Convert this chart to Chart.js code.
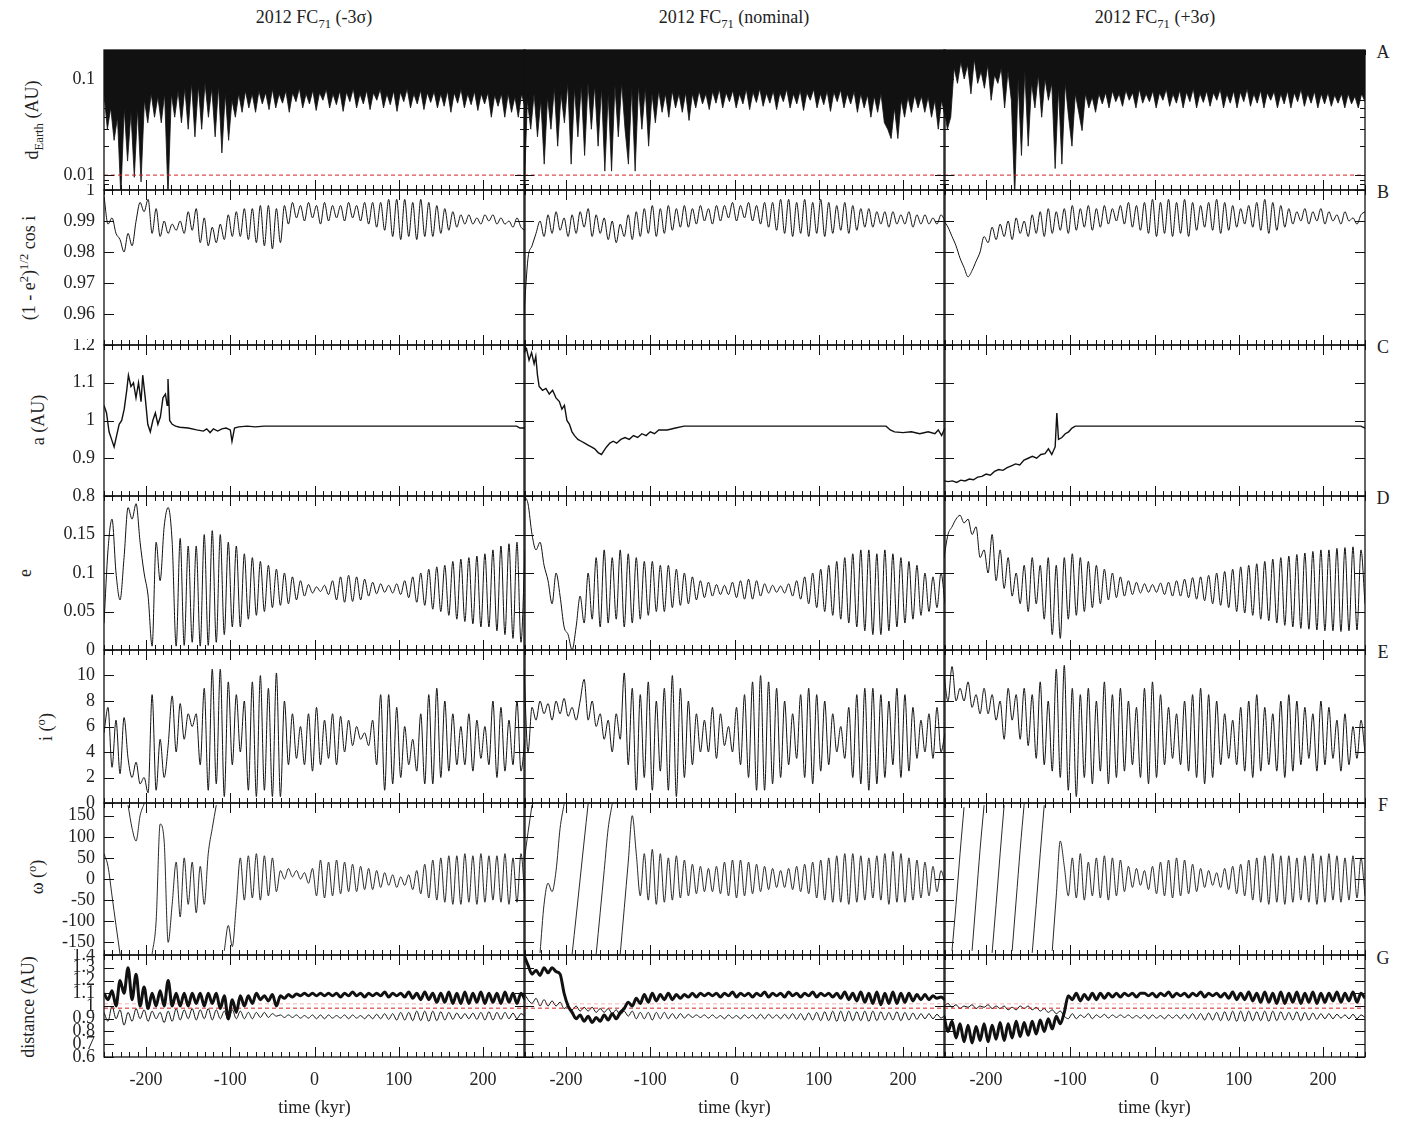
<!DOCTYPE html>
<html lang="en">
<head>
<meta charset="UTF-8">
<title>2012 FC71 orbital evolution</title>
<script src="https://cdn.jsdelivr.net/npm/chart.js"></script>
<style>
  body { margin: 0; background: #fff; }
  #fig { position: relative; width: 1408px; height: 1126px; font-family: "Liberation Serif", "DejaVu Serif", serif; color: #222; }
  #fig canvas { position: absolute; }
  .txt { position: absolute; font-size: 18px; white-space: nowrap; line-height: 1; }
  .txt sub, .txt sup { font-size: 70%; }
  .ctitle { transform: translate(-50%, -50%); }
  .ylab { transform: translate(-50%, -50%) rotate(-90deg); }
  .tag { transform: translate(-50%, -50%); }
</style>
</head>
<body>
<div id="fig">
  <div class="txt ctitle" style="left:314px;top:19px">2012 FC<sub>71</sub> (-3σ)</div>
  <div class="txt ctitle" style="left:734px;top:19px">2012 FC<sub>71</sub> (nominal)</div>
  <div class="txt ctitle" style="left:1155px;top:19px">2012 FC<sub>71</sub> (+3σ)</div>

  <div class="txt ylab" style="left:34px;top:120px">d<sub>Earth</sub> (AU)</div>
  <div class="txt ylab" style="left:28px;top:268px">(1 - e<sup>2</sup>)<sup>1/2</sup> cos i</div>
  <div class="txt ylab" style="left:38px;top:420px">a (AU)</div>
  <div class="txt ylab" style="left:25px;top:573px">e</div>
  <div class="txt ylab" style="left:45px;top:727px">i (<sup>o</sup>)</div>
  <div class="txt ylab" style="left:36px;top:877px">ω (<sup>o</sup>)</div>
  <div class="txt ylab" style="left:28px;top:1007px">distance (AU)</div>

  <div class="txt tag" style="left:1383px;top:52px">A</div>
  <div class="txt tag" style="left:1383px;top:192px">B</div>
  <div class="txt tag" style="left:1383px;top:347px">C</div>
  <div class="txt tag" style="left:1383px;top:498px">D</div>
  <div class="txt tag" style="left:1383px;top:652px">E</div>
  <div class="txt tag" style="left:1383px;top:805px">F</div>
  <div class="txt tag" style="left:1383px;top:958px">G</div>
</div>

<script>
// ---- axis ticks ----
const xMajorTicks = [-200, -100, 0, 100, 200];
const yTicksA = [0.01, 0.1];
const yLabelsA = ['0.01', '0.1'];
const yMinorA = [0.008, 0.009, 0.02, 0.03, 0.04, 0.05, 0.06, 0.07, 0.08, 0.09, 0.2];
const yTicksB = [0.96, 0.97, 0.98, 0.99, 1];
const yLabelsB = ['0.96', '0.97', '0.98', '0.99', '1'];
const yTicksC = [0.8, 0.9, 1, 1.1, 1.2];
const yLabelsC = ['0.8', '0.9', '1', '1.1', '1.2'];
const yTicksD = [0, 0.05, 0.1, 0.15];
const yLabelsD = ['0', '0.05', '0.1', '0.15'];
const yTicksE = [0, 2, 4, 6, 8, 10];
const yLabelsE = ['0', '2', '4', '6', '8', '10'];
const yTicksF = [-150, -100, -50, 0, 50, 100, 150];
const yLabelsF = ['-150', '-100', '-50', '0', '50', '100', '150'];
const yTicksG = [0.6, 0.7, 0.8, 0.9, 1, 1.1, 1.2, 1.3, 1.4];
const yLabelsG = ['0.6', '0.7', '0.8', '0.9', '1', '1.1', '1.2', '1.3', '1.4'];

// reference levels
const closeLimit = 0.01;
const earthPeri = 0.983;
const earthAph = 1.017;

// ---- A: distance to Earth (lower envelope, evenly spaced -250..250 kyr) ----
const dEarthLeft = [
  .07,.03,.05,.023,.04,.006,.05,.014,.045,.0095,
  .05,.0085,.06,.035,.07,.04,.065,.035,.07,.006,
  .07,.04,.075,.035,.08,.03,.09,.025,.085,.03,
  .09,.04,.08,.025,.085,.017,.07,.023,.06,.04,
  .07,.045,.075,.05,.07,.045,.075,.055,.072,.048,
  .078,.05,.07,.056,.075,.045,.072,.058,.08,.05,
  .07,.055,.076,.047,.072,.06,.078,.05,.07,.054,
  .075,.046,.073,.058,.079,.05,.07,.055,.076,.048,
  .072,.06,.078,.05,.07,.054,.075,.046,.073,.058,
  .079,.05,.07,.055,.076,.048,.072,.057,.074,.05,
  .07,.052,.075,.045,.072,.056,.078,.05,.07,.054,
  .074,.047,.07,.055,.072,.04,.068,.052,.07,.04,
  .07,.045,.065,.04,.07,.05
];
const dEarthMid = [
  .006,.06,.03,.07,.025,.06,.013,.065,.03,.08,
  .02,.07,.035,.09,.013,.08,.025,.085,.016,.09,
  .03,.085,.02,.08,.011,.07,.011,.085,.025,.09,
  .03,.013,.08,.011,.085,.03,.08,.02,.07,.035,
  .075,.045,.07,.04,.075,.05,.07,.045,.072,.037,
  .07,.05,.075,.055,.07,.048,.074,.056,.078,.05,
  .072,.058,.076,.05,.07,.055,.078,.048,.073,.057,
  .079,.052,.071,.056,.075,.048,.072,.058,.078,.05,
  .07,.055,.076,.047,.072,.06,.078,.05,.07,.054,
  .075,.046,.073,.058,.077,.05,.07,.055,.074,.045,
  .07,.05,.068,.04,.066,.045,.07,.035,.03,.024,
  .05,.024,.06,.04,.065,.045,.068,.05,.066,.045,
  .065,.04,.06,.03,.06,.04
];
const dEarthRight = [
  .05,.03,.04,.13,.09,.15,.10,.14,.07,.16,
  .09,.12,.08,.14,.06,.11,.09,.13,.05,.12,
  .06,.006,.10,.016,.12,.02,.09,.05,.11,.04,
  .10,.06,.09,.0117,.08,.013,.09,.04,.02,.07,
  .045,.029,.07,.05,.065,.045,.07,.055,.072,.05,
  .075,.058,.07,.052,.076,.06,.072,.05,.078,.056,
  .07,.058,.075,.05,.072,.06,.078,.052,.07,.056,
  .076,.05,.073,.058,.079,.05,.071,.057,.075,.052,
  .072,.06,.078,.05,.07,.056,.075,.05,.073,.058,
  .079,.052,.07,.056,.076,.05,.072,.06,.074,.05,
  .07,.055,.075,.05,.072,.058,.078,.052,.07,.056,
  .074,.05,.07,.055,.072,.052,.068,.056,.07,.05,
  .07,.055,.066,.05,.07,.058
];

// ---- B: (1-e^2)^1/2 cos i ----
const cosLeft = [
  .998,.989,.991,.986,.984,.980,.986,.982,.990,.996,
  .993,.997,.986,.994,.985,.990,.986,.989,.987,.990,
  .986,.993,.987,.994,.983,.991,.982,.988,.983,.989,
  .984,.992,.985,.993,.985,.994,.984,.994,.983,.995,
  .982,.995,.981,.994,.983,.995,.989,.996,.991,.995,
  .990,.996,.991,.995,.989,.996,.990,.995,.991,.995,
  .990,.996,.991,.995,.990,.996,.989,.996,.988,.996,
  .987,.997,.985,.997,.984,.997,.985,.996,.984,.997,
  .985,.996,.985,.995,.986,.994,.987,.993,.988,.992,
  .989,.992,.989,.991,.989,.992,.990,.992,.989,.991,
  .989,.990,.988,.991,.988,.987
];
const cosMid = [
  .960,.978,.982,.986,.990,.985,.992,.986,.993,.987,
  .991,.985,.992,.986,.993,.988,.994,.985,.992,.986,
  .991,.984,.990,.983,.989,.985,.992,.984,.993,.985,
  .994,.986,.995,.985,.994,.986,.995,.987,.994,.988,
  .995,.988,.994,.989,.995,.990,.994,.989,.995,.990,
  .995,.991,.996,.990,.995,.991,.996,.990,.995,.989,
  .996,.988,.996,.987,.997,.986,.997,.985,.996,.986,
  .997,.985,.996,.986,.997,.985,.996,.986,.995,.987,
  .996,.986,.995,.987,.994,.988,.994,.988,.993,.989,
  .993,.988,.993,.989,.992,.989,.993,.988,.992,.989,
  .992,.989,.991,.989,.992,.990
];
const cosRight = [
  .990,.988,.985,.982,.978,.975,.972,.974,.977,.980,
  .985,.983,.988,.984,.989,.985,.990,.984,.991,.986,
  .990,.985,.992,.986,.993,.985,.994,.986,.993,.987,
  .994,.986,.995,.987,.994,.988,.995,.987,.994,.988,
  .995,.989,.994,.990,.995,.989,.996,.988,.995,.987,
  .996,.986,.997,.985,.996,.986,.997,.985,.996,.986,
  .997,.985,.996,.987,.995,.988,.996,.987,.997,.986,
  .996,.987,.995,.988,.994,.989,.995,.988,.996,.987,
  .997,.986,.996,.987,.995,.988,.994,.989,.993,.990,
  .994,.989,.993,.990,.994,.989,.993,.990,.992,.989,
  .993,.990,.991,.989,.992,.993
];

// ---- C: semi-major axis (time, value) ----
const semiTimeLeft = [-250,-247,-244,-241,-238,-235,-232,-229,-226,-223,-221,-218,-215,-212,-209,-206,-204,-201,-198,-195,-192,-189,-186,-183,-180,-177,-175,-174,-172,-169,-165,-160,-150,-140,-132,-128,-124,-120,-115,-110,-105,-100,-98,-95,-90,-80,-70,-60,240,244,250];
const semiLeft = [1.04,1.02,0.97,0.95,0.93,0.96,0.99,1.0,1.03,1.08,1.12,1.09,1.1,1.06,1.1,1.05,1.12,1.06,0.99,0.97,1.0,1.02,0.99,1.01,1.06,1.07,1.04,1.11,1.0,0.99,0.985,0.982,0.98,0.975,0.972,0.978,0.968,0.978,0.972,0.978,0.98,0.975,0.945,0.98,0.983,0.985,0.983,0.985,0.985,0.98,0.98];
const semiTimeMid = [-250,-247,-244,-241,-238,-236,-234,-232,-228,-224,-220,-216,-212,-208,-205,-202,-199,-196,-193,-190,-186,-182,-178,-174,-170,-166,-162,-158,-155,-152,-148,-144,-140,-135,-130,-125,-120,-115,-110,-105,-100,-95,-90,-80,-70,-60,180,185,190,200,210,220,230,238,242,246,250];
const semiMid = [1.18,1.19,1.16,1.18,1.15,1.17,1.12,1.09,1.08,1.085,1.07,1.08,1.06,1.05,1.03,1.04,1.0,0.99,0.97,0.96,0.95,0.945,0.94,0.935,0.93,0.925,0.915,0.91,0.92,0.93,0.94,0.945,0.94,0.95,0.955,0.95,0.96,0.955,0.965,0.96,0.97,0.965,0.975,0.975,0.98,0.985,0.985,0.975,0.97,0.968,0.97,0.965,0.97,0.965,0.975,0.96,0.98];
const semiTimeRight = [-250,-245,-240,-235,-230,-225,-220,-215,-210,-205,-200,-195,-190,-185,-180,-175,-170,-165,-160,-155,-150,-145,-140,-135,-130,-126,-122,-118,-116,-114,-110,-106,-102,-98,-94,245,250];
const semiRight = [0.84,0.838,0.84,0.836,0.842,0.84,0.845,0.843,0.85,0.852,0.858,0.855,0.865,0.87,0.868,0.875,0.88,0.885,0.882,0.895,0.9,0.905,0.9,0.91,0.912,0.925,0.91,0.93,1.02,0.95,0.955,0.965,0.97,0.98,0.985,0.985,0.98];

// ---- D: eccentricity ----
const eccLeft = [
  .035,.13,.17,.10,.065,.12,.185,.17,.19,.14,
  .10,.07,.005,.14,.09,.16,.185,.14,.005,.145,
  .006,.135,.01,.135,.005,.15,.006,.155,.01,.15,
  .02,.14,.03,.135,.03,.125,.04,.12,.045,.115,
  .05,.11,.055,.105,.058,.10,.06,.095,.065,.09,
  .07,.085,.074,.082,.076,.084,.072,.09,.065,.095,
  .062,.097,.063,.095,.065,.092,.07,.088,.073,.086,
  .075,.084,.074,.086,.072,.09,.068,.095,.062,.10,
  .058,.105,.053,.108,.05,.11,.045,.115,.04,.118,
  .037,.12,.034,.122,.03,.125,.03,.13,.025,.135,
  .02,.138,.015,.14,.01,.13
];
const eccMid = [
  .20,.19,.15,.13,.14,.11,.09,.06,.10,.07,
  .03,.02,.0,.03,.07,.035,.10,.04,.12,.03,
  .13,.035,.12,.04,.13,.03,.125,.035,.12,.04,
  .115,.045,.115,.05,.11,.05,.11,.055,.105,.058,
  .10,.06,.095,.065,.09,.068,.088,.07,.085,.072,
  .084,.072,.088,.068,.09,.066,.092,.066,.09,.07,
  .086,.074,.084,.075,.083,.074,.086,.07,.09,.066,
  .095,.06,.10,.055,.105,.05,.11,.045,.115,.04,
  .12,.035,.125,.03,.13,.025,.13,.02,.125,.02,
  .13,.025,.125,.03,.12,.035,.115,.04,.11,.045,
  .10,.05,.095,.055,.10,.06
];
const eccRight = [
  .12,.15,.16,.17,.175,.165,.17,.15,.16,.12,
  .13,.10,.15,.09,.13,.08,.12,.07,.10,.06,
  .11,.05,.12,.06,.11,.04,.12,.02,.11,.015,
  .12,.04,.125,.045,.12,.05,.115,.055,.11,.06,
  .105,.065,.10,.068,.095,.07,.09,.072,.088,.074,
  .086,.075,.085,.075,.087,.072,.088,.07,.09,.07,
  .092,.068,.094,.066,.095,.064,.097,.06,.10,.058,
  .102,.055,.105,.05,.108,.048,.11,.045,.112,.04,
  .115,.038,.118,.035,.12,.032,.122,.03,.124,.028,
  .126,.027,.128,.026,.13,.025,.13,.025,.132,.024,
  .133,.025,.134,.026,.13,.06
];

// ---- E: inclination (deg) ----
const incLeft = [
  5.5,7.5,2.8,6.5,2.3,6.7,3.5,2.0,3.2,1.5,
  2.0,0.8,8.5,1.0,5.0,2.0,4.5,8.4,4.0,7.8,
  5.0,7.0,6.0,7.0,3.0,9.0,1.0,10.5,1.5,10.5,
  0.5,9.5,3.0,8.5,4.0,8.0,1.0,9.5,0.5,10.0,
  1.0,9.0,0.5,10.2,0.5,8.0,3.0,7.0,3.5,6.0,
  3.0,7.0,2.5,7.5,3.0,6.5,3.5,7.0,3.0,6.8,
  4.0,6.5,4.5,6.0,5.0,5.5,4.5,6.5,3.0,8.5,
  1.0,8.5,1.5,7.5,2.0,6.0,3.0,5.0,2.5,7.0,
  1.5,8.5,1.5,9.0,2.0,8.0,2.5,7.0,3.0,6.0,
  3.0,7.0,2.5,6.5,3.5,6.0,3.0,8.0,2.0,7.5,
  2.5,6.5,3.0,8.0,2.5,5.0
];
const incMid = [
  10.5,4.0,7.5,6.5,8.0,7.0,7.8,6.5,8.0,7.0,
  8.2,6.8,7.5,6.5,8.0,9.7,6.5,8.0,6.0,7.0,
  5.0,6.5,4.0,7.0,5.0,10.2,3.0,9.0,1.0,8.5,
  2.0,9.5,1.0,8.0,2.5,9.0,1.0,10.0,0.5,9.0,
  2.0,8.0,3.0,7.0,4.0,6.5,4.0,7.5,3.5,7.0,
  4.5,6.0,4.0,7.5,3.0,8.5,2.0,9.5,1.0,10.0,
  1.0,9.5,1.5,9.0,2.0,8.0,3.0,7.0,3.5,8.5,
  2.0,9.0,1.5,8.5,2.5,8.0,3.0,7.0,4.0,6.0,
  3.5,7.5,2.0,8.5,1.5,9.0,1.0,9.0,1.5,8.5,
  2.0,8.0,3.0,9.0,2.0,8.5,2.5,7.5,3.5,6.5,
  4.0,7.0,3.5,7.5,4.0,5.5
];
const incRight = [
  10.0,8.0,10.7,8.0,9.0,8.0,9.5,7.5,8.5,7.0,
  9.0,7.0,8.5,6.5,8.0,5.0,9.0,6.5,8.5,5.0,
  9.0,4.5,8.5,3.5,9.5,3.0,8.0,2.5,10.5,2.0,
  10.8,1.0,9.0,0.5,8.5,2.0,9.0,1.5,8.0,2.5,
  9.5,1.5,8.5,2.0,9.0,2.5,8.0,3.0,7.5,2.0,
  9.0,1.5,9.5,2.0,8.5,3.0,7.5,3.5,7.0,3.0,
  8.0,2.5,8.5,2.0,9.0,1.5,8.5,2.0,8.0,3.0,
  7.0,3.5,6.5,3.0,7.5,2.5,8.0,2.0,8.5,2.5,
  7.5,3.0,7.0,2.5,8.0,2.0,8.5,2.5,8.0,3.0,
  7.5,3.5,7.0,2.5,8.0,3.0,7.5,3.5,6.5,2.5,
  7.0,3.0,6.0,3.5,6.5,4.0
];

// ---- F: argument of perihelion (deg), null where the angle wraps ----
const periLeft = [
  60,30,-40,-110,-178,null,175,120,90,150,
  178,null,-178,-100,130,90,-150,-60,40,-90,
  50,-60,40,-80,30,-60,60,120,175,null,
  -170,-110,-160,-60,50,-50,55,-45,60,-50,
  55,-40,50,-30,20,0,25,5,20,0,
  15,-10,25,-40,45,-45,40,-40,45,-35,
  40,-30,35,-30,30,-25,25,-25,20,-20,
  15,-15,10,-20,5,-15,10,-25,20,-35,
  35,-45,45,-50,50,-55,55,-60,55,-60,
  60,-55,55,-60,60,-55,55,-50,55,-55,
  60,-60,50,-55,60,-50
];
const periMid = [
  40,110,175,null,-175,-60,-10,-30,20,120,
  178,null,-178,-90,0,90,178,null,-178,-80,
  20,120,178,null,-178,-70,40,150,60,-40,
  60,-50,70,-60,60,-55,50,-50,55,-45,
  45,-40,35,-35,30,-30,25,-30,30,-35,
  40,-40,45,-45,45,-40,40,-35,35,-30,
  30,-25,25,-20,20,-20,25,-25,30,-30,
  35,-35,40,-45,45,-50,50,-55,55,-55,
  60,-60,60,-55,55,-50,50,-45,55,-50,
  60,-60,65,-55,60,-55,50,-50,45,-45,
  40,-40,30,-30,20,-10
];
const periRight = [
  170,null,-170,-60,60,170,null,-170,-50,70,
  175,null,-175,-60,60,175,null,-170,-50,70,
  178,null,-175,-60,60,175,null,-170,-40,90,
  30,-40,50,-45,60,-50,40,-40,50,-45,
  55,-50,50,-40,45,-30,30,-20,25,-15,
  20,-25,30,-35,40,-40,45,-45,50,-40,
  45,-35,35,-30,25,-20,20,-15,15,-20,
  25,-25,30,-35,35,-40,45,-50,50,-55,
  55,-60,60,-55,55,-60,55,-55,50,-50,
  55,-55,60,-60,55,-55,60,-50,55,-55,
  50,-50,55,-45,50,-40
];

// ---- G: nodal distances (AU), outer (thick) and inner (thin) ----
const nodeOutLeft = [
  1.1,1.05,1.12,1.0,1.2,1.1,1.3,1.05,1.25,1.0,
  1.15,0.98,1.1,1.0,1.12,1.0,1.2,1.0,1.1,1.0,
  1.1,1.0,1.1,1.02,1.1,1.0,1.1,1.02,1.1,0.98,
  1.08,0.9,1.05,0.95,1.08,1.0,1.08,1.02,1.1,1.05,
  1.08,1.04,1.09,1.0,1.08,1.06,1.09,1.07,1.095,1.08,
  1.1,1.08,1.1,1.08,1.1,1.08,1.1,1.08,1.1,1.07,
  1.1,1.08,1.11,1.08,1.1,1.07,1.1,1.08,1.1,1.08,
  1.11,1.07,1.1,1.08,1.1,1.07,1.11,1.06,1.1,1.05,
  1.11,1.05,1.1,1.03,1.1,1.03,1.11,1.02,1.1,1.02,
  1.11,1.02,1.1,1.03,1.11,1.02,1.1,1.03,1.1,1.02,
  1.11,1.03,1.1,1.02,1.1,1.05
];
const nodeInLeft = [
  0.95,0.88,1.0,0.9,0.97,0.85,0.95,0.88,0.98,0.9,
  0.97,0.88,0.96,0.9,0.95,0.87,0.96,0.88,0.98,0.89,
  0.97,0.9,0.98,0.89,0.97,0.9,0.98,0.89,0.97,0.9,
  0.96,0.89,0.97,0.9,0.96,0.9,0.95,0.9,0.95,0.91,
  0.95,0.91,0.94,0.92,0.93,0.91,0.93,0.91,0.93,0.905,
  0.925,0.905,0.93,0.9,0.93,0.9,0.93,0.905,0.925,0.905,
  0.93,0.9,0.93,0.905,0.925,0.9,0.93,0.9,0.935,0.9,
  0.94,0.895,0.94,0.89,0.95,0.89,0.95,0.885,0.96,0.885,
  0.96,0.88,0.96,0.885,0.955,0.89,0.95,0.895,0.945,0.9,
  0.94,0.9,0.945,0.895,0.95,0.89,0.955,0.89,0.95,0.895,
  0.95,0.9,0.945,0.9,0.94,0.92
];
const nodeOutMid = [
  1.4,1.32,1.25,1.28,1.24,1.3,1.26,1.3,1.27,1.25,
  1.1,1.0,0.95,0.9,0.93,0.88,0.92,0.87,0.91,0.88,
  0.93,0.89,0.94,0.9,0.95,0.98,1.03,1.0,1.06,1.02,
  1.09,1.03,1.1,1.04,1.09,1.05,1.1,1.05,1.09,1.06,
  1.09,1.07,1.1,1.07,1.1,1.08,1.1,1.08,1.1,1.07,
  1.1,1.08,1.11,1.07,1.1,1.08,1.1,1.07,1.1,1.08,
  1.11,1.07,1.1,1.08,1.1,1.07,1.11,1.08,1.1,1.07,
  1.1,1.08,1.11,1.07,1.1,1.08,1.1,1.07,1.1,1.06,
  1.11,1.05,1.1,1.04,1.11,1.03,1.1,1.02,1.11,1.01,
  1.1,1.02,1.11,1.02,1.1,1.03,1.1,1.04,1.09,1.05,
  1.09,1.05,1.08,1.06,1.07,1.05
];
const nodeInMid = [
  1.1,1.05,1.02,1.06,1.0,1.05,1.0,1.04,1.0,1.03,
  0.98,1.0,0.97,1.0,0.96,0.99,0.96,0.99,0.95,0.98,
  0.95,0.98,0.94,0.97,0.93,0.96,0.92,0.96,0.9,0.95,
  0.9,0.95,0.89,0.95,0.9,0.95,0.9,0.94,0.9,0.94,
  0.905,0.935,0.91,0.93,0.91,0.93,0.905,0.93,0.905,0.925,
  0.9,0.93,0.905,0.925,0.9,0.93,0.905,0.93,0.9,0.935,
  0.9,0.935,0.905,0.93,0.9,0.935,0.9,0.94,0.895,0.94,
  0.89,0.945,0.89,0.95,0.885,0.955,0.885,0.96,0.88,0.96,
  0.88,0.96,0.885,0.955,0.885,0.96,0.88,0.96,0.885,0.955,
  0.89,0.95,0.89,0.955,0.885,0.95,0.89,0.945,0.895,0.94,
  0.9,0.94,0.9,0.935,0.905,0.93
];
const nodeOutRight = [
  0.92,0.8,0.88,0.75,0.86,0.72,0.85,0.71,0.84,0.73,
  0.86,0.72,0.85,0.74,0.87,0.73,0.86,0.75,0.88,0.76,
  0.87,0.77,0.88,0.78,0.89,0.8,0.9,0.82,0.92,0.86,
  0.95,1.08,1.05,1.1,1.04,1.09,1.05,1.1,1.05,1.1,
  1.06,1.1,1.07,1.1,1.07,1.1,1.08,1.1,1.07,1.1,
  1.1,1.08,1.1,1.07,1.1,1.08,1.11,1.07,1.1,1.08,
  1.1,1.07,1.1,1.08,1.11,1.07,1.1,1.08,1.1,1.07,
  1.1,1.06,1.11,1.05,1.1,1.05,1.11,1.04,1.1,1.03,
  1.11,1.03,1.1,1.02,1.11,1.02,1.1,1.03,1.11,1.02,
  1.1,1.03,1.11,1.02,1.1,1.03,1.1,1.04,1.11,1.03,
  1.1,1.04,1.11,1.03,1.1,1.06
];
const nodeInRight = [
  1.0,1.02,0.99,1.01,0.98,1.0,0.99,1.01,0.98,1.0,
  0.99,1.01,0.98,1.0,0.98,1.0,0.97,0.99,0.97,1.0,
  0.98,1.0,0.97,0.99,0.96,0.98,0.95,0.97,0.94,0.96,
  0.92,0.9,0.94,0.9,0.93,0.91,0.94,0.9,0.93,0.91,
  0.935,0.905,0.93,0.91,0.93,0.91,0.93,0.905,0.925,0.905,
  0.93,0.9,0.93,0.905,0.925,0.9,0.93,0.905,0.93,0.9,
  0.935,0.9,0.94,0.895,0.94,0.89,0.945,0.89,0.95,0.885,
  0.955,0.885,0.96,0.88,0.96,0.88,0.96,0.885,0.955,0.885,
  0.96,0.88,0.96,0.885,0.955,0.89,0.95,0.89,0.955,0.885,
  0.95,0.89,0.945,0.895,0.94,0.9,0.94,0.9,0.935,0.905,
  0.93,0.9,0.935,0.9,0.93,0.91
];

// ---- layout ----
const colX = [104, 524, 944];
const colW = 421;
const rowY = [50, 190, 345, 496, 650, 803, 955];
const rowH = [140, 155, 151, 154, 153, 152, 102];
const ML = 70, MR = 6, MT = 6, MB = 6, MB_LAST = 66;
const INK = '#111';
const RED = '#d42020';
const FONT = { family: '"Liberation Serif", "DejaVu Serif", serif', size: 18 };

// evenly spread samples over -250..250 kyr
function timeGrid(vals) {
  const step = 500 / (vals.length - 1);
  return vals.map((v, i) => ({ x: -250 + i * step, y: v }));
}
function pairs(ts, vals) {
  return ts.map((t, i) => ({ x: t, y: vals[i] }));
}
function curve(data, extra) {
  return Object.assign({
    data, borderColor: INK, borderWidth: 1, pointRadius: 0, fill: false,
    cubicInterpolationMode: 'monotone', spanGaps: false
  }, extra || {});
}
function level(v, color, width) {
  return {
    data: [{ x: -250, y: v }, { x: 250, y: v }],
    borderColor: color, borderWidth: width || 1, borderDash: [4, 3], pointRadius: 0, fill: false
  };
}

const rowCfg = [
  { type: 'logarithmic', min: 0.007, max: 0.2, ticks: yTicksA, labels: yLabelsA, minor: yMinorA },
  { min: 0.95, max: 1, ticks: yTicksB, labels: yLabelsB },
  { min: 0.8, max: 1.2, ticks: yTicksC, labels: yLabelsC },
  { min: 0, max: 0.2, ticks: yTicksD, labels: yLabelsD },
  { min: 0, max: 12, ticks: yTicksE, labels: yLabelsE },
  { min: -180, max: 180, ticks: yTicksF, labels: yLabelsF },
  { min: 0.6, max: 1.4, ticks: yTicksG, labels: yLabelsG }
];

const columns = [
  { A: dEarthLeft, B: cosLeft, Ct: semiTimeLeft, C: semiLeft, D: eccLeft, E: incLeft, F: periLeft, G1: nodeOutLeft, G2: nodeInLeft },
  { A: dEarthMid, B: cosMid, Ct: semiTimeMid, C: semiMid, D: eccMid, E: incMid, F: periMid, G1: nodeOutMid, G2: nodeInMid },
  { A: dEarthRight, B: cosRight, Ct: semiTimeRight, C: semiRight, D: eccRight, E: incRight, F: periRight, G1: nodeOutRight, G2: nodeInRight }
];

function datasetsFor(col, r) {
  switch (r) {
    case 0: return [
      level(closeLimit, RED),
      curve(timeGrid(col.A), { fill: 'end', backgroundColor: INK, borderWidth: 0.8, cubicInterpolationMode: 'default', tension: 0 })
    ];
    case 1: return [curve(timeGrid(col.B))];
    case 2: return [curve(pairs(col.Ct, col.C), { cubicInterpolationMode: 'default', tension: 0, borderWidth: 1.4 })];
    case 3: return [curve(timeGrid(col.D))];
    case 4: return [curve(timeGrid(col.E))];
    case 5: return [curve(timeGrid(col.F), { borderWidth: 0.9 })];
    default: return [
      curve(timeGrid(col.G1), { borderWidth: 3 }),
      level(earthPeri, RED),
      level(earthAph, 'rgba(230,120,120,0.55)'),
      curve(timeGrid(col.G2), { borderWidth: 1 })
    ];
  }
}

// box with inward ticks on all four sides
const framePlugin = {
  id: 'frame',
  afterDatasetsDraw(chart, args, opts) {
    const { ctx, chartArea: a, scales: { x, y } } = chart;
    const seg = (x1, y1, x2, y2) => { ctx.moveTo(x1, y1); ctx.lineTo(x2, y2); };
    ctx.save();
    ctx.strokeStyle = INK;
    ctx.lineWidth = 1;
    ctx.beginPath();
    for (let t = -250; t <= 250; t += 10) {
      const px = Math.round(x.getPixelForValue(t)) + 0.5;
      const len = xMajorTicks.includes(t) ? 10 : 5;
      seg(px, a.top, px, a.top + len);
      seg(px, a.bottom, px, a.bottom - len);
    }
    const yTick = (v, len) => {
      const py = Math.round(y.getPixelForValue(v)) + 0.5;
      seg(a.left, py, a.left + len, py);
      seg(a.right, py, a.right - len, py);
    };
    opts.major.forEach(v => yTick(v, 10));
    (opts.minor || []).forEach(v => yTick(v, 5));
    ctx.stroke();
    ctx.lineWidth = 1.3;
    ctx.strokeRect(a.left, a.top, a.right - a.left, a.bottom - a.top);
    ctx.restore();
  }
};

const fig = document.getElementById('fig');

columns.forEach((col, c) => {
  rowCfg.forEach((cfg, r) => {
    const last = r === rowCfg.length - 1;
    const cv = document.createElement('canvas');
    const w = colW + ML + MR;
    const h = rowH[r] + MT + (last ? MB_LAST : MB);
    cv.width = w; cv.height = h;
    cv.style.width = w + 'px'; cv.style.height = h + 'px';
    cv.style.left = (colX[c] - ML) + 'px';
    cv.style.top = (rowY[r] - MT) + 'px';
    fig.appendChild(cv);

    new Chart(cv, {
      type: 'line',
      data: { datasets: datasetsFor(col, r) },
      options: {
        responsive: false,
        animation: false,
        devicePixelRatio: 1,
        layout: { padding: { top: MT, right: MR, left: 0, bottom: 0 } },
        plugins: {
          legend: { display: false },
          tooltip: { enabled: false },
          frame: { major: cfg.ticks, minor: cfg.minor }
        },
        scales: {
          x: {
            type: 'linear', min: -250, max: 250,
            grid: { display: false, drawTicks: false },
            border: { display: false },
            ticks: { display: last, autoSkip: false, padding: 12, font: FONT, color: '#222', maxRotation: 0 },
            afterBuildTicks: s => { s.ticks = xMajorTicks.map(v => ({ value: v })); },
            afterFit: s => { s.height = last ? MB_LAST : MB; s.paddingLeft = 0; s.paddingRight = 0; },
            title: { display: last, text: 'time (kyr)', font: FONT, color: '#222', padding: { top: 4, bottom: 4 } }
          },
          y: {
            type: cfg.type || 'linear', min: cfg.min, max: cfg.max,
            grid: { display: false, drawTicks: false },
            border: { display: false },
            ticks: {
              display: c === 0, autoSkip: false, padding: 9, font: FONT, color: '#222',
              callback: v => { const i = cfg.ticks.indexOf(v); return i >= 0 ? cfg.labels[i] : ''; }
            },
            afterBuildTicks: s => { s.ticks = cfg.ticks.map(v => ({ value: v })); },
            afterFit: s => { s.width = ML; s.paddingTop = 0; s.paddingBottom = 0; }
          }
        }
      },
      plugins: [framePlugin]
    });
  });
});
</script>
</body>
</html>
